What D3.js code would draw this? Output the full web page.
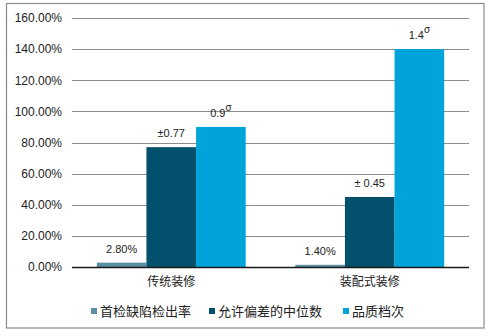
<!DOCTYPE html>
<html>
<head>
<meta charset="utf-8">
<script src="https://cdn.jsdelivr.net/npm/d3@7"></script>
<style>
  html, body { margin: 0; padding: 0; background: #fff; }
  svg { display: block; font-family: "Liberation Sans", Arial, sans-serif; }
</style>
</head>
<body>
<svg id="chart" width="491" height="336"></svg>
<script>
// Categories and series
const categories = ["传统装修", "装配式装修"];
const seriesNames = ["首检缺陷检出率", "允许偏差的中位数", "品质档次"];
const seriesColors = ["#5a8fa3", "#03506c", "#00a3da"];
const defectRate = [0.028, 0.014];
const medianTolerance = [0.77, 0.45];
const qualityGrade = [0.9, 1.4];
// Value labels: main text plus optional superscript
const labelMain = [["2.80%", "1.40%"], ["±0.77", "± 0.45"], ["0.9", "1.4"]];
const labelSup = [["", ""], ["", ""], ["σ", "σ"]];
const yTicks = [0, 0.2, 0.4, 0.6, 0.8, 1.0, 1.2, 1.4, 1.6];

const seriesValues = [defectRate, medianTolerance, qualityGrade];

const svg = d3.select("#chart");

// Outer frame
svg.append("rect")
  .attr("x", 6.5).attr("y", 3.5)
  .attr("width", 477.5).attr("height", 324.5)
  .attr("fill", "none").attr("stroke", "#8a8a8a").attr("stroke-width", 1.2);

const plot = { left: 72, right: 469, top: 18, bottom: 267 };

const x0 = d3.scaleBand().domain(categories)
  .range([plot.left, plot.right]).paddingInner(0).paddingOuter(0);
const x1 = d3.scaleBand().domain(d3.range(seriesNames.length))
  .range([0, x0.bandwidth()]).paddingOuter(0.5).paddingInner(0);
const y = d3.scaleLinear().domain([0, 1.6]).range([plot.bottom, plot.top]);

// Gridlines
svg.append("g").selectAll("line").data(yTicks.filter(d => d > 0)).join("line")
  .attr("x1", plot.left).attr("x2", plot.right)
  .attr("y1", d => Math.round(y(d)) + 0.5).attr("y2", d => Math.round(y(d)) + 0.5)
  .attr("stroke", "#8c8c8c").attr("stroke-width", 1);

// Y axis labels
const yAxis = d3.axisLeft(y).tickValues(yTicks)
  .tickFormat(d => (d * 100).toFixed(2) + "%").tickSize(0).tickPadding(10);
const yg = svg.append("g").attr("transform", `translate(${plot.left},0)`).call(yAxis);
yg.select(".domain").remove();
yg.selectAll("text").attr("font-size", 12).attr("fill", "#222")
  .attr("font-family", "'Liberation Sans', Arial, sans-serif");

// Bars
const groups = svg.append("g").selectAll("g").data(categories).join("g")
  .attr("transform", c => `translate(${x0(c)},0)`);

groups.each(function(c, ci) {
  const g = d3.select(this);
  seriesValues.forEach((vals, si) => {
    const v = vals[ci];
    g.append("rect")
      .attr("x", x1(si)).attr("width", x1.bandwidth())
      .attr("y", y(v)).attr("height", y(0) - y(v))
      .attr("fill", seriesColors[si]);
    const t = g.append("text")
      .attr("x", x1(si) + x1.bandwidth() / 2)
      .attr("y", y(v) - 10)
      .attr("text-anchor", "middle")
      .attr("font-size", 11).attr("fill", "#222");
    t.append("tspan").text(labelMain[si][ci]);
    if (labelSup[si][ci]) {
      t.append("tspan").attr("dy", -6).attr("font-size", 10).text(labelSup[si][ci]);
    }
  });
});

// Baseline axis
svg.append("line")
  .attr("x1", plot.left).attr("x2", plot.right)
  .attr("y1", y(0) + 0.5).attr("y2", y(0) + 0.5)
  .attr("stroke", "#1a1a1a").attr("stroke-width", 1.3);

// Category labels
const xAxis = d3.axisBottom(x0).tickSize(0).tickPadding(10);
const xg = svg.append("g").attr("transform", `translate(0,${plot.bottom})`).call(xAxis);
xg.select(".domain").remove();
xg.selectAll("text").attr("font-size", 12).attr("fill", "#222")
  .attr("font-family", "'Noto Sans CJK SC', sans-serif");

// Legend
const legendX = [91, 209, 343];
const legend = svg.append("g").selectAll("g").data(seriesNames).join("g")
  .attr("transform", (d, i) => `translate(${legendX[i]},311)`);
legend.append("rect").attr("x", 0).attr("y", -3).attr("width", 6).attr("height", 6)
  .attr("fill", (d, i) => seriesColors[i]);
legend.append("text").attr("x", 9).attr("y", 0).attr("dy", "0.35em")
  .attr("font-size", 13).attr("fill", "#222")
  .attr("font-family", "'Noto Sans CJK SC', sans-serif")
  .text(d => d);
</script>
</body>
</html>
